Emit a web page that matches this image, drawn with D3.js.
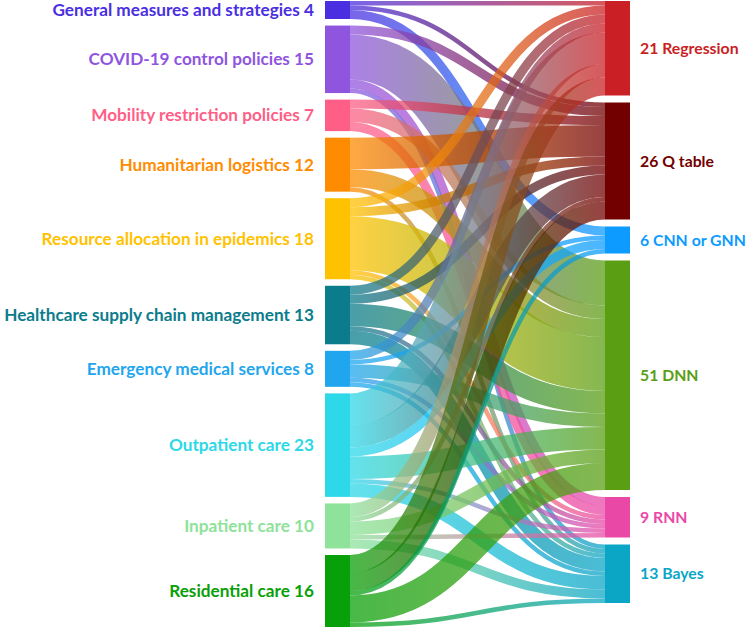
<!DOCTYPE html>
<html lang="en">
<head>
<meta charset="utf-8">
<title>Sankey</title>
<script src="https://d3js.org/d3.v7.min.js"></script>
<style>
  body { margin: 0; background: #fff; }
  svg { display: block; }
  text { font-family: Lato, "Open Sans", sans-serif; font-weight: 700; font-size: 17.2px; }
  text.right { font-size: 15.8px; }
</style>
</head>
<body>
<svg></svg>
<script>

// Application areas (left column)
var sources = ["General measures and strategies", "COVID-19 control policies",
  "Mobility restriction policies", "Humanitarian logistics",
  "Resource allocation in epidemics", "Healthcare supply chain management",
  "Emergency medical services", "Outpatient care", "Inpatient care", "Residential care"];
var sourceColors = ["#4a2fe0", "#8f55df", "#ff5f87", "#ff8c00", "#ffc200",
  "#0b7c8c", "#1fa6ee", "#2dd8e8", "#8ee29a", "#08a008"];

// Function approximators (right column)
var targets = ["Regression", "Q table", "CNN or GNN", "DNN", "RNN", "Bayes"];
var targetColors = ["#c91f25", "#730000", "#0d9bff", "#5a9e14", "#e948a7", "#0ba6c6"];

// flows[i][j] = papers going from source i to target j
var flows = [
  [1, 1, 2, 0, 0, 0],
  [0, 2, 0, 10, 2, 1],
  [0, 2, 0, 3, 2, 0],
  [0, 7, 0, 4, 0, 1],
  [2, 2, 0, 12, 1, 1],
  [2, 2, 0, 5, 1, 3],
  [2, 0, 1, 3, 1, 1],
  [7, 5, 2, 5, 1, 3],
  [3, 1, 0, 3, 1, 2],
  [4, 4, 1, 6, 0, 1]
];

var w = 749;
var h = 629;
var nodeWidth = 25;
var top0 = 1;
var bottoms = {left: 627, right: 603};

var svg = d3.select("svg")
    .attr("width", w)
    .attr("height", h);

var xScale = d3.scalePoint()
    .domain(["left", "right"])
    .range([325, 605]);

// value -> band thickness
var band = d3.scaleLinear()
    .domain([0, 1])
    .range([0, 4.5]);

var sourceValues = flows.map(row => d3.sum(row));
var targetValues = targets.map((t, j) => d3.sum(flows, row => row[j]));

function layout(names, colors, values, side) {
  var pad = (bottoms[side] - top0 - band(d3.sum(values))) / (names.length - 1);
  var y = top0;
  return names.map(function(name, i) {
    var n = {name: name, color: colors[i], value: values[i],
             x0: xScale(side), x1: xScale(side) + nodeWidth,
             y0: y, y1: y + band(values[i])};
    y = n.y1 + pad;
    return n;
  });
}

var leftNodes = layout(sources, sourceColors, sourceValues, "left");
var rightNodes = layout(targets, targetColors, targetValues, "right");

// links: ordered by target at the source, by source at the target
var links = [];
var sy = leftNodes.map(n => n.y0);
var ty = rightNodes.map(n => n.y0);
flows.forEach(function(row, i) {
  row.forEach(function(v, j) {
    if (!v) return;
    links.push({i: i, j: j, value: v});
  });
});
links.forEach(function(l) {
  var wdt = band(l.value);
  l.width = wdt;
  l.y0 = sy[l.i] + wdt / 2; sy[l.i] += wdt;
});
links.slice().sort((a, b) => a.j - b.j || a.i - b.i).forEach(function(l) {
  l.y1 = ty[l.j] + l.width / 2; ty[l.j] += l.width;
});

var defs = svg.append("defs");
var linkPath = d3.linkHorizontal();

links.forEach(function(l, k) {
  var g = defs.append("linearGradient")
      .attr("id", "grad" + k)
      .attr("gradientUnits", "userSpaceOnUse")
      .attr("x1", leftNodes[l.i].x1)
      .attr("x2", rightNodes[l.j].x0);
  g.append("stop").attr("offset", "0%").attr("stop-color", leftNodes[l.i].color);
  g.append("stop").attr("offset", "100%").attr("stop-color", rightNodes[l.j].color);
});

svg.append("g")
    .attr("fill", "none")
    .attr("stroke-opacity", 0.74)
  .selectAll("path")
  .data(links)
  .join("path")
    .attr("d", l => linkPath({source: [leftNodes[l.i].x1, l.y0], target: [rightNodes[l.j].x0, l.y1]}))
    .attr("stroke", (l, k) => "url(#grad" + k + ")")
    .attr("stroke-width", l => l.width);

var nodes = leftNodes.concat(rightNodes);

svg.append("g")
  .selectAll("rect")
  .data(nodes)
  .join("rect")
    .attr("x", d => d.x0)
    .attr("y", d => d.y0)
    .attr("width", d => d.x1 - d.x0)
    .attr("height", d => d.y1 - d.y0)
    .attr("fill", d => d.color);

svg.append("g")
  .selectAll("text")
  .data(leftNodes)
  .join("text")
    .attr("x", d => d.x0 - 11)
    .attr("y", d => (d.y0 + d.y1) / 2)
    .attr("dy", "0.35em")
    .attr("text-anchor", "end")
    .attr("fill", d => d.color)
    .text(d => d.name + " " + d.value);

svg.append("g")
  .selectAll("text")
  .data(rightNodes)
  .join("text")
    .attr("class", "right")
    .attr("x", d => d.x1 + 10)
    .attr("y", d => (d.y0 + d.y1) / 2)
    .attr("dy", "0.35em")
    .attr("fill", d => d.color)
    .text(d => d.value + " " + d.name);

</script>
</body>
</html>
